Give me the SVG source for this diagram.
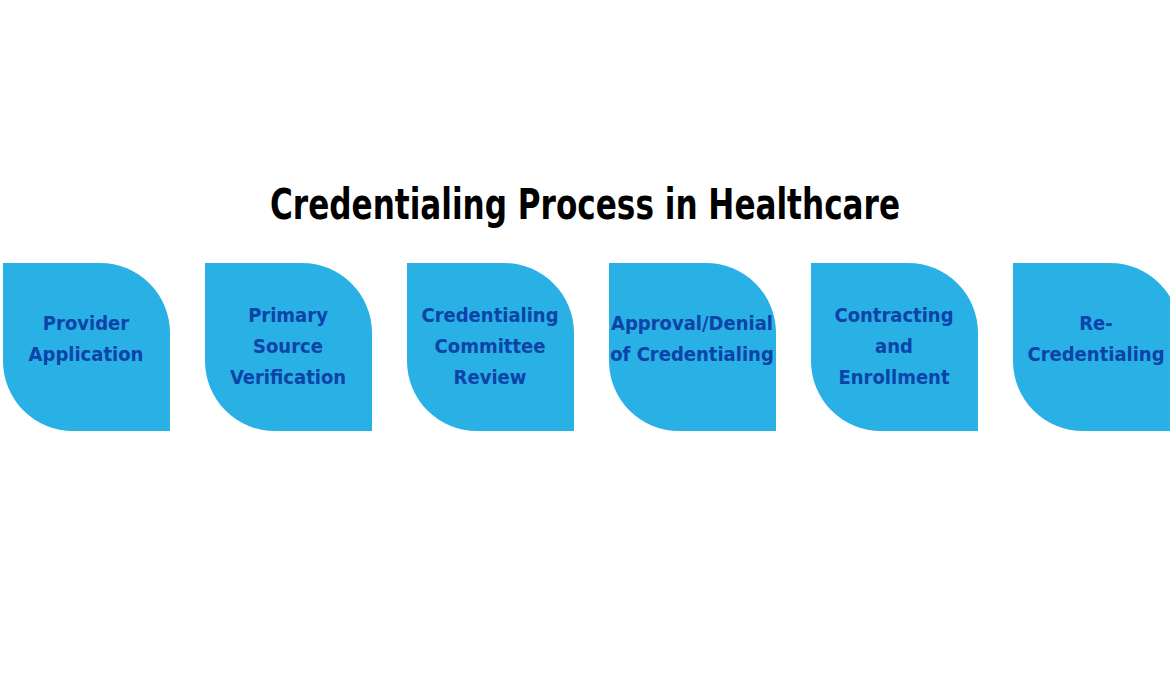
<svg xmlns="http://www.w3.org/2000/svg" width="1170" height="694" viewBox="0 0 1170 694">
<defs>
<style>
.s{fill:#29b0e5}
.t{font-family:"DejaVu Sans Condensed","DejaVu Sans",sans-serif;font-weight:bold;font-size:20px;fill:#0b43a8;text-anchor:middle}
.h{font-family:"DejaVu Sans Condensed","DejaVu Sans",sans-serif;font-weight:bold;font-size:42px;fill:#000;text-anchor:middle}
</style>
<path id="leaf" d="M0 0 H97 A70 70 0 0 1 167 70 V168 H70 A70 70 0 0 1 0 98 Z"/>
</defs>
<rect width="1170" height="694" fill="#fff"/>
<text class="h" x="585" y="219" textLength="630" lengthAdjust="spacingAndGlyphs">Credentialing Process in Healthcare</text>
<g id="n1"><use href="#leaf" class="s" x="3" y="263"/><text class="t" x="86" y="330">Provider</text><text class="t" x="86" y="361">Application</text></g>
<g id="n2"><use href="#leaf" class="s" x="205" y="263"/><text class="t" x="288" y="322">Primary</text><text class="t" x="288" y="353">Source</text><text class="t" x="288" y="384">Verification</text></g>
<g id="n3"><use href="#leaf" class="s" x="407" y="263"/><text class="t" x="490" y="322">Credentialing</text><text class="t" x="490" y="353">Committee</text><text class="t" x="490" y="384">Review</text></g>
<g id="n4"><use href="#leaf" class="s" x="609" y="263"/><text class="t" x="692" y="330">Approval/Denial</text><text class="t" x="692" y="361">of Credentialing</text></g>
<g id="n5"><use href="#leaf" class="s" x="811" y="263"/><text class="t" x="894" y="322">Contracting</text><text class="t" x="894" y="353">and</text><text class="t" x="894" y="384">Enrollment</text></g>
<g id="n6"><use href="#leaf" class="s" x="1013" y="263"/><text class="t" x="1096" y="330">Re-</text><text class="t" x="1096" y="361">Credentialing</text></g>
<g id="connectors"/>
</svg>
